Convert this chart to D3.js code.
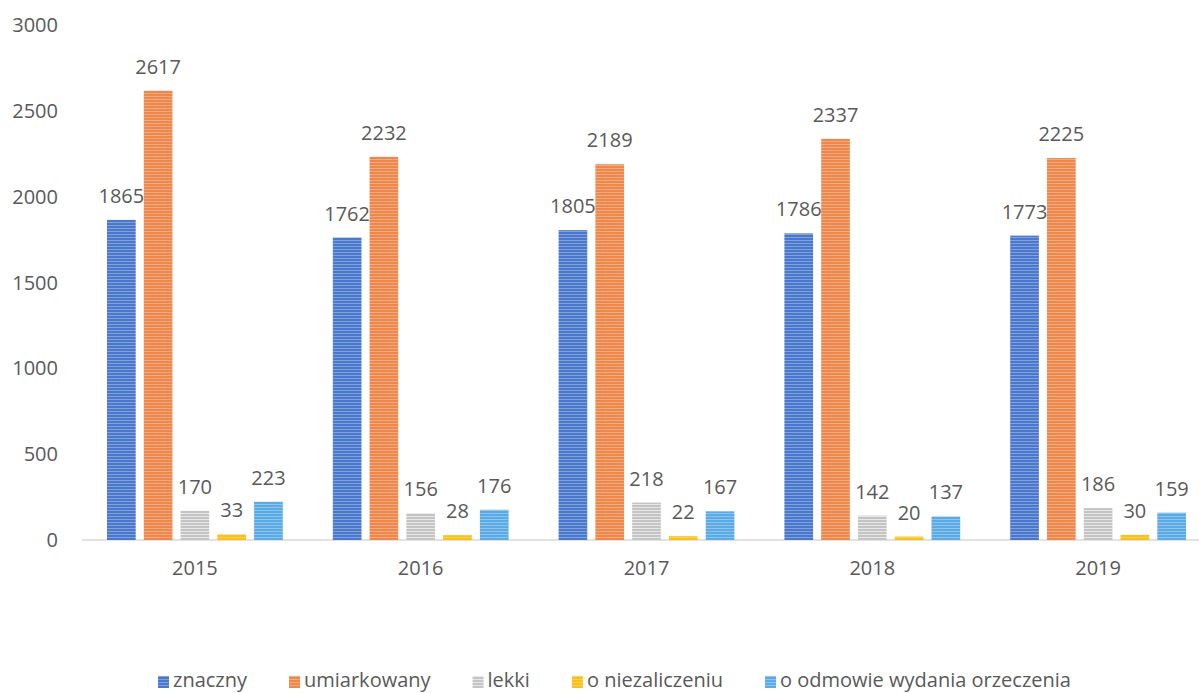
<!DOCTYPE html>
<html>
<head>
<meta charset="utf-8">
<script src="https://cdn.jsdelivr.net/npm/d3@7"></script>
<style>
body { margin: 0; background: #fff; }
svg text { font-family: "Open Sans", sans-serif; fill: #595959; font-size: 20px; }
</style>
</head>
<body>
<svg id="chart" width="1199" height="693"></svg>
<script>
var years = ['2015', '2016', '2017', '2018', '2019'];
var seriesNames = ['znaczny', 'umiarkowany', 'lekki', 'o niezaliczeniu', 'o odmowie wydania orzeczenia'];
var znaczny = [1865, 1762, 1805, 1786, 1773];
var umiarkowany = [2617, 2232, 2189, 2337, 2225];
var lekki = [170, 156, 218, 142, 186];
var niezaliczenie = [33, 28, 22, 20, 30];
var odmowa = [223, 176, 167, 137, 159];
var yTicks = [0, 500, 1000, 1500, 2000, 2500, 3000];
var colors = ['#4a78cc', '#f0874a', '#c4c4c4', '#fbbf1a', '#5aaae6'];

var allSeries = [znaczny, umiarkowany, lekki, niezaliczenie, odmowa];

const svg = d3.select("#chart"),
  margin = {top: 25, left: 82},
  width = 1129,
  height = 515;

// striped fill, like the scanned Excel pattern
var defs = svg.append("defs");
colors.forEach(function(c, i) {
  var p = defs.append("pattern")
    .attr("id", "stripe" + i)
    .attr("patternUnits", "userSpaceOnUse")
    .attr("width", 6).attr("height", 3);
  p.append("rect").attr("width", 6).attr("height", 3).attr("fill", c);
  p.append("rect").attr("y", 2).attr("width", 6).attr("height", 1)
    .attr("fill", "#fff").attr("opacity", i == 2 ? 0.6 : 0.3);
});

const x0 = d3.scaleBand().domain(years).range([0, width]);
const x1 = d3.scaleBand().domain(d3.range(5)).range([25, x0.bandwidth() - 25]).paddingInner(0.22);
const y = d3.scaleLinear().domain([0, 3000]).range([height, 0]);

const g = svg.append("g").attr("transform", `translate(${margin.left},${margin.top})`);

// y tick labels
g.append("g").selectAll("text")
  .data(yTicks)
  .enter().append("text")
  .attr("x", -24)
  .attr("y", d => y(d))
  .attr("dy", "0.35em")
  .attr("text-anchor", "end")
  .text(d => d);

// baseline
g.append("line")
  .attr("x1", 0).attr("x2", 1199 - margin.left)
  .attr("y1", y(0)).attr("y2", y(0))
  .attr("stroke", "#d9d9d9").attr("stroke-width", 1.5);

var groups = g.selectAll(".year")
  .data(years)
  .enter().append("g")
  .attr("class", "year")
  .attr("transform", d => `translate(${x0(d)},0)`);

groups.selectAll("rect")
  .data((d, i) => allSeries.map((s, k) => ({k: k, v: s[i]})))
  .enter().append("rect")
  .attr("x", d => x1(d.k))
  .attr("y", d => y(d.v))
  .attr("width", x1.bandwidth())
  .attr("height", d => y(0) - y(d.v))
  .attr("fill", d => `url(#stripe${d.k})`);

groups.selectAll(".val")
  .data((d, i) => allSeries.map((s, k) => ({k: k, v: s[i]})))
  .enter().append("text")
  .attr("class", "val")
  .attr("x", d => x1(d.k) + x1.bandwidth() / 2)
  .attr("y", d => y(d.v) - 24)
  .attr("dy", "0.35em")
  .attr("text-anchor", "middle")
  .text(d => d.v);

// x labels
g.append("g").selectAll("text")
  .data(years)
  .enter().append("text")
  .attr("x", d => x0(d) + x0.bandwidth() / 2)
  .attr("y", y(0) + 28)
  .attr("dy", "0.35em")
  .attr("text-anchor", "middle")
  .text(d => d);

// legend, laid out by text width
var legend = svg.append("g").attr("transform", "translate(158,680)");
var lx = 0;
seriesNames.forEach(function(name, i) {
  var item = legend.append("g").attr("transform", `translate(${lx},0)`);
  item.append("rect")
    .attr("y", -4).attr("width", 11).attr("height", 12)
    .attr("fill", `url(#stripe${i})`);
  var t = item.append("text")
    .attr("x", 15).attr("dy", "0.35em")
    .text(name);
  lx += 15 + t.node().getComputedTextLength() + 42;
});
</script>
</body>
</html>
